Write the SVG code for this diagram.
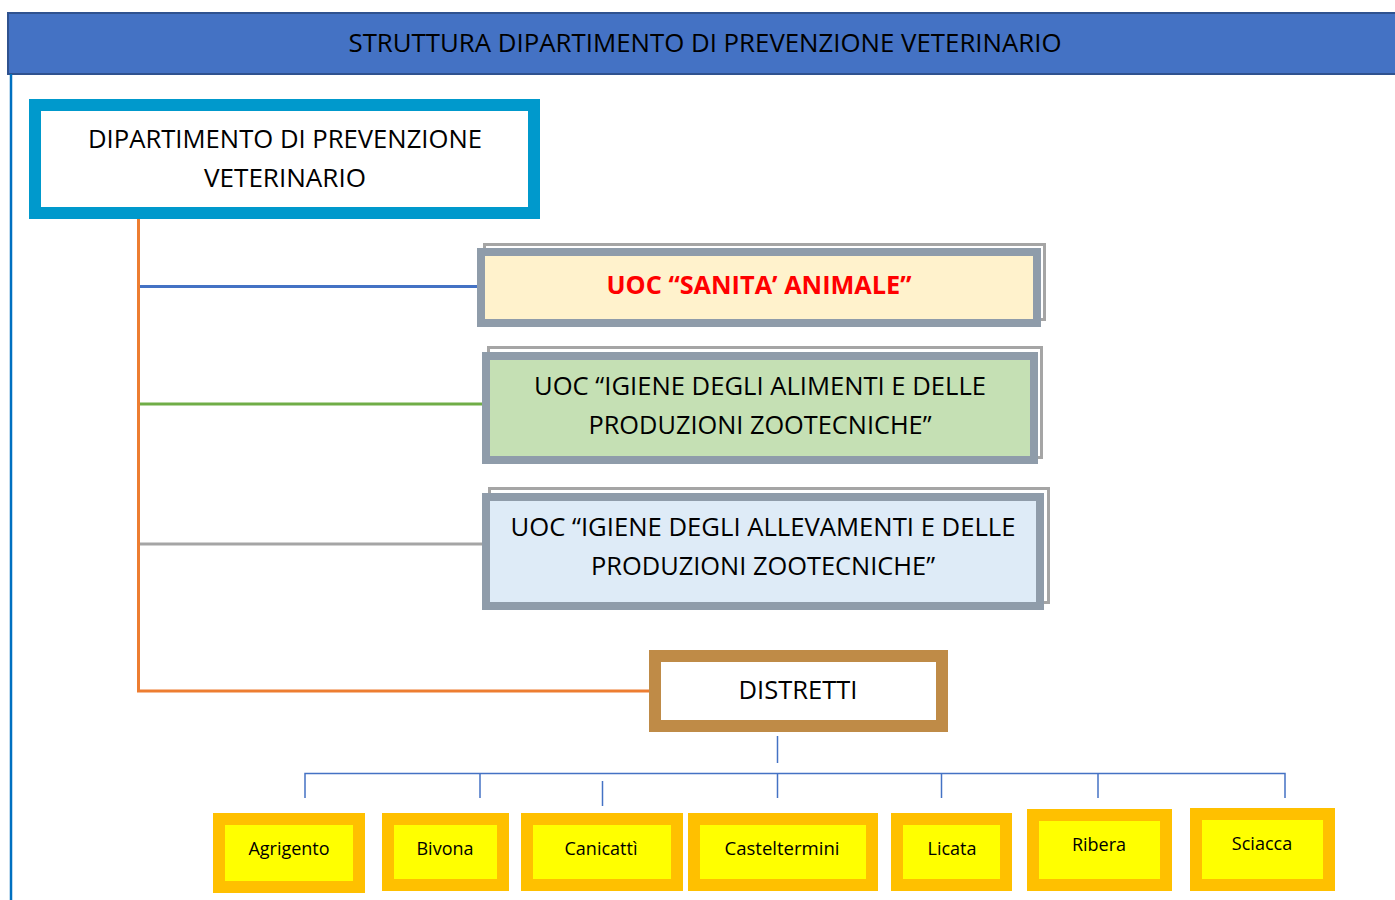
<svg xmlns="http://www.w3.org/2000/svg" width="1395" height="900" viewBox="0 0 1395 900">
<style>
text{font-family:"Open Sans","Liberation Sans",sans-serif;fill:#000;text-anchor:middle}
.t25{font-size:25px}
.t18{font-size:18px}
.back{fill:none;stroke:#A5A5A5;stroke-width:3}
.front{stroke:#8F9CAA;stroke-width:8}
.yel{fill:#FFFF00;stroke:#FFC000;stroke-width:12}
.con{fill:none;stroke-width:3}
.blu{fill:none;stroke:#4472C4;stroke-width:1.5}
</style>
<rect x="0" y="0" width="1395" height="900" fill="#fff"/>
<g id="header">
<rect x="8" y="13" width="1392" height="61" fill="#4472C4" stroke="#2F528F" stroke-width="2"/>
<text class="t25" x="705" y="52" textLength="713" lengthAdjust="spacingAndGlyphs">STRUTTURA DIPARTIMENTO DI PREVENZIONE VETERINARIO</text>
</g>
<line x1="11" y1="74" x2="11" y2="900" stroke="#0070C0" stroke-width="2.5"/>
<g id="connectors">
<polyline class="con" stroke="#ED7D31" points="138.5,217 138.5,691 652,691"/>
<line class="con" stroke="#4472C4" x1="140" y1="286.5" x2="480" y2="286.5"/>
<line class="con" stroke="#70AD47" x1="140" y1="404" x2="484" y2="404"/>
<line class="con" stroke="#A5A5A5" x1="140" y1="544" x2="484" y2="544"/>
<line class="blu" x1="777.5" y1="736" x2="777.5" y2="763"/>
<polyline class="blu" points="305,798 305,773.5 1285,773.5 1285,798"/>
<line class="blu" x1="480" y1="773" x2="480" y2="798"/>
<line class="blu" x1="602.5" y1="781" x2="602.5" y2="806"/>
<line class="blu" x1="777.5" y1="773" x2="777.5" y2="798"/>
<line class="blu" x1="941.5" y1="773" x2="941.5" y2="798"/>
<line class="blu" x1="1098" y1="773" x2="1098" y2="798"/>
</g>
<g id="dipartimento">
<rect x="35" y="105" width="499" height="108" fill="#fff" stroke="#0099CC" stroke-width="12"/>
<text class="t25" x="285" y="148" textLength="394" lengthAdjust="spacingAndGlyphs">DIPARTIMENTO DI PREVENZIONE</text>
<text class="t25" x="285" y="187" textLength="162" lengthAdjust="spacingAndGlyphs">VETERINARIO</text>
</g>
<g id="uoc-sanita">
<rect class="back" x="484.5" y="244.5" width="560" height="75"/>
<rect class="front" x="481" y="252" width="556" height="71" fill="#FFF2CC"/>
<text class="t25" x="759" y="294" font-weight="bold" style="fill:#FF0000" textLength="305" lengthAdjust="spacingAndGlyphs">UOC “SANITA’ ANIMALE”</text>
</g>
<g id="uoc-alimenti">
<rect class="back" x="488.5" y="347.5" width="553" height="110"/>
<rect class="front" x="486" y="356" width="548" height="104" fill="#C5E0B4"/>
<text class="t25" x="760" y="395" textLength="452" lengthAdjust="spacingAndGlyphs">UOC “IGIENE DEGLI ALIMENTI E DELLE</text>
<text class="t25" x="760" y="434" textLength="343" lengthAdjust="spacingAndGlyphs">PRODUZIONI ZOOTECNICHE”</text>
</g>
<g id="uoc-allevamenti">
<rect class="back" x="489.5" y="488.5" width="559" height="114"/>
<rect class="front" x="486" y="497" width="554" height="109" fill="#DEEBF7"/>
<text class="t25" x="763" y="536" textLength="505" lengthAdjust="spacingAndGlyphs">UOC “IGIENE DEGLI ALLEVAMENTI E DELLE</text>
<text class="t25" x="763" y="575" textLength="344" lengthAdjust="spacingAndGlyphs">PRODUZIONI ZOOTECNICHE”</text>
</g>
<g id="distretti">
<rect x="655" y="656" width="287" height="70" fill="#fff" stroke="#BF8B47" stroke-width="12"/>
<text class="t25" x="798" y="699" textLength="119" lengthAdjust="spacingAndGlyphs">DISTRETTI</text>
</g>
<g id="agrigento">
<rect class="yel" x="219" y="819" width="140" height="68"/>
<text class="t18" x="289" y="855">Agrigento</text>
</g>
<g id="bivona">
<rect class="yel" x="388" y="819" width="115" height="66"/>
<text class="t18" x="445" y="855">Bivona</text>
</g>
<g id="canicatti">
<rect class="yel" x="527" y="819" width="150" height="66"/>
<text class="t18" x="601" y="855">Canicattì</text>
</g>
<g id="casteltermini">
<rect class="yel" x="694" y="819" width="178" height="66"/>
<text class="t18" x="782" y="855" textLength="115" lengthAdjust="spacingAndGlyphs">Casteltermini</text>
</g>
<g id="licata">
<rect class="yel" x="897" y="819" width="109" height="66"/>
<text class="t18" x="952" y="855">Licata</text>
</g>
<g id="ribera">
<rect class="yel" x="1033" y="815" width="133" height="70"/>
<text class="t18" x="1099" y="851">Ribera</text>
</g>
<g id="sciacca">
<rect class="yel" x="1196" y="814" width="133" height="71"/>
<text class="t18" x="1262" y="850">Sciacca</text>
</g>
</svg>
